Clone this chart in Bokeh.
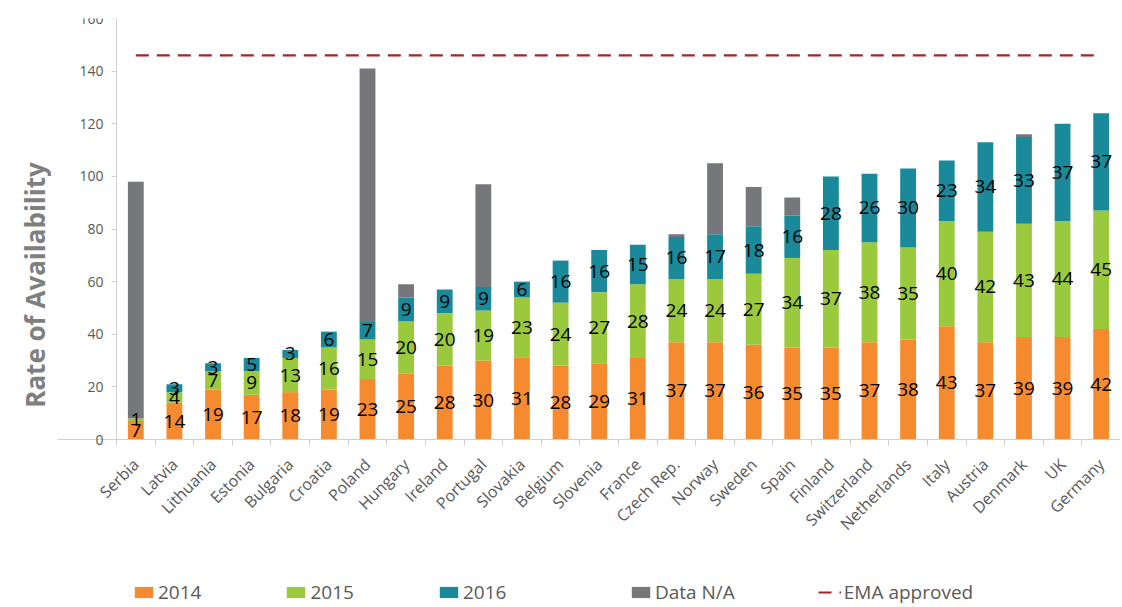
import math
from bokeh.plotting import figure
from bokeh.models import (ColumnDataSource, Range1d, FixedTicker, Legend, LegendItem,
                          LinearAxis)
from bokeh.core.properties import value
from bokeh.embed import file_html
from bokeh.resources import INLINE

countries = ["Serbia", "Latvia", "Lithuania", "Estonia", "Bulgaria", "Croatia", "Poland",
             "Hungary", "Ireland", "Portugal", "Slovakia", "Belgium", "Slovenia", "France",
             "Czech Rep.", "Norway", "Sweden", "Spain", "Finland", "Switzerland",
             "Netherlands", "Italy", "Austria", "Denmark", "UK", "Germany"]
v2014 = [7, 14, 19, 17, 18, 19, 23, 25, 28, 30, 31, 28, 29, 31, 37, 37, 36, 35, 35, 37, 38, 43, 37, 39, 39, 42]
v2015 = [1, 4, 7, 9, 13, 16, 15, 20, 20, 19, 23, 24, 27, 28, 24, 24, 27, 34, 37, 38, 35, 40, 42, 43, 44, 45]
v2016 = [0, 3, 3, 5, 3, 6, 7, 9, 9, 9, 6, 16, 16, 15, 16, 17, 18, 16, 28, 26, 30, 23, 34, 33, 37, 37]
data_na = [90, 0, 0, 0, 0, 0, 96, 5, 0, 39, 0, 0, 0, 0, 1, 27, 15, 7, 0, 0, 0, 0, 0, 1, 0, 0]
ema_approved = 146
y_ticks = [0, 20, 40, 60, 80, 100, 120, 140, 160]

series_names = ["2014", "2015", "2016", "Data N/A"]
colors = ["#F68A2F", "#9BC93D", "#1A8A9B", "#76777B"]
FONT = "Open Sans"

# layout geometry (pixels)
TOP, ZERO, BOTTOM = 18, 439, 605      # frame top, zero line, frame bottom
FRAME_LEFT, AXIS_X, RIGHT = 57, 116, 1120
y_max = 160
y_min = -y_max * (BOTTOM - ZERO) / (ZERO - TOP)

n = len(countries)
unit = (RIGHT - AXIS_X) / n
x_start = -0.5 - (AXIS_X - FRAME_LEFT) / unit

xs = list(range(n))
src = ColumnDataSource(dict(x=xs, s2014=v2014, s2015=v2015, s2016=v2016, sna=data_na))

p = figure(width=RIGHT, height=BOTTOM, output_backend="svg", toolbar_location=None,
           x_range=Range1d(x_start, n - 0.5), y_range=Range1d(y_min, y_max),
           x_axis_location=None,
           title="\u00a0" * 8 + "Rate of Availability", title_location="left",
           min_border_left=FRAME_LEFT, min_border_top=TOP, min_border_right=0,
           min_border_bottom=0)
p.outline_line_color = None
p.grid.visible = False
p.background_fill_color = "white"
p.title.align = "center"
p.title.text_font = FONT
p.title.text_font_size = "26px"
p.title.text_font_style = "bold"
p.title.text_color = "#7F7F7F"

renderers = p.vbar_stack(["s2014", "s2015", "s2016", "sna"], x="x", width=0.41,
                         color=colors, line_color=None, source=src)

ema_r = p.line(x=xs, y=[ema_approved] * n, line_color="#A3262A", line_width=2.2,
               line_dash="13 8")

# value labels at segment centres
lx, ly, lt = [], [], []
for i in range(n):
    base = 0
    for vals in (v2014, v2015, v2016):
        v = vals[i]
        if v > 0:
            lx.append(xs[i])
            ly.append(base + v / 2)
            lt.append(str(v))
        base += v
p.text(x=lx, y=ly, text=lt, text_align="center", text_baseline="middle",
       text_font=value(FONT), text_font_size="19px", text_color="black")

# category axis line at y = 0 with boundary tick marks
xa = LinearAxis(fixed_location=0,
                ticker=FixedTicker(ticks=[], minor_ticks=[i - 0.5 for i in range(n + 1)]))
xa.major_tick_line_color = None
xa.major_tick_out = 0
xa.major_tick_in = 0
xa.major_label_standoff = 0
xa.minor_tick_line_color = "#D0D0D0"
xa.minor_tick_out = 0
xa.minor_tick_in = 6
xa.axis_line_color = "#D0D0D0"
p.add_layout(xa, "above")

# category names, rotated, under each bar
p.text(x=xs, y=[0] * n, text=countries, angle=math.pi / 4, text_align="right",
       text_baseline="middle", x_offset=0, y_offset=22,
       text_font=value(FONT), text_font_size="16px", text_color="#595959")

ya = p.yaxis[0]
ya.fixed_location = -0.5
ya.ticker = FixedTicker(ticks=y_ticks)
ya.bounds = (0, y_max)
ya.minor_tick_line_color = None
ya.major_tick_line_color = "#D0D0D0"
ya.major_tick_out = 5
ya.major_tick_in = 0
ya.axis_line_color = "#D0D0D0"
ya.major_label_text_font = FONT
ya.major_label_text_font_size = "14px"
ya.major_label_text_color = "#595959"
ya.major_label_standoff = 8

legend_labels = ["2014", "2015", "2016" + "\u00a0" * 8, "Data N/A", "EMA approved"]
legend_renderers = list(renderers) + [ema_r]
items = [LegendItem(label=lab, renderers=[r]) for lab, r in zip(legend_labels, legend_renderers)]
legend = Legend(items=items, orientation="horizontal", location=(132 - FRAME_LEFT, 0),
                glyph_width=23, glyph_height=14, label_standoff=3, spacing=83,
                padding=0, margin=0, background_fill_alpha=0, border_line_color=None,
                label_text_font=FONT, label_text_font_size="19px",
                label_text_color="#595959")
p.add_layout(legend, "center")

open("out.html", "w").write(file_html(p, INLINE))
